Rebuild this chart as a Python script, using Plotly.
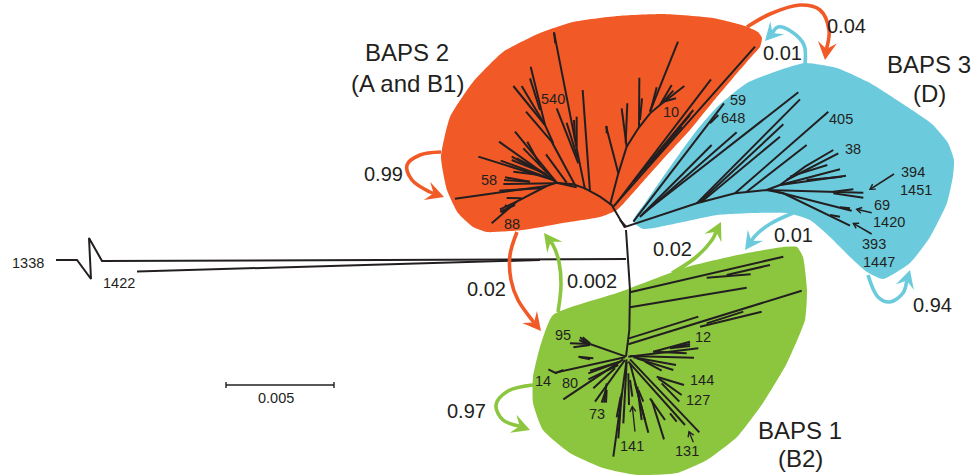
import plotly.graph_objects as go

INK = "#231f20"
ORANGE = "#f15a26"
BLUE = "#6bcbdd"
GREEN = "#8cc63f"

# Clade outlines (picture units)
orange_x = [762, 758, 745, 713, 663, 617, 573, 540, 503, 473, 450, 441, 447, 458, 473, 487, 523, 563, 600, 617, 640, 665, 690, 712, 733, 752, 760, 762]
orange_y = [38, 32, 26, 18, 14, 16, 22, 33, 52, 82, 117, 157, 190, 213, 227, 232, 230, 223, 217, 210, 185, 157, 130, 103, 78, 56, 47, 38]
blue_x = [633, 645, 661, 680, 697, 717, 747, 780, 805, 837, 870, 903, 932, 948, 954, 953, 947, 930, 910, 883, 867, 850, 830, 810, 787, 753, 717, 683, 643, 633]
blue_y = [221, 203, 180, 153, 130, 107, 83, 70, 63, 68, 83, 104, 124, 143, 160, 176, 203, 237, 263, 279, 272, 257, 237, 220, 213, 213, 215, 222, 229, 221]
green_x = [797, 803, 807, 805, 787, 763, 737, 707, 677, 637, 603, 570, 543, 533, 533, 540, 553, 620, 687, 747, 783, 797]
green_y = [247, 257, 290, 320, 363, 403, 437, 460, 473, 475, 468, 453, 430, 403, 377, 347, 315, 292, 267, 253, 247, 247]

# Branches, as polylines in zoomed-picture units (one origin per list)
orange_upper = [
    [(585,683),(545,615),(510,590),(465,565),(430,553),(375,548)],
    [(370,430),(345,375),(302,200)], [(345,375),(250,258)], [(345,375),(275,258)],
    [(330,330),(300,235)],
    [(540,615),(565,520),(590,440),(625,385),(660,340),(690,315),(763,258)],
    [(565,520),(528,378)], [(590,440),(575,325)], [(587,430),(592,310)], [(627,380),(628,233)], [(630,360),(636,295)],
    [(660,335),(744,125)], [(665,320),(680,262)], [(672,300),(660,335)], [(690,315),(725,255)], [(695,310),(730,272)], [(700,305),(738,295)],
    [(550,620),(975,140)], [(555,615),(843,238)], [(610,545),(790,330)], [(640,510),(780,345)], [(660,490),(755,380)],
    [(372,97),(376,130)], [(530,378),(530,400)],
]
orange_fine = [
    [(320,248),(195,95)], [(320,248),(220,145)], [(320,248),(147,125)], [(270,195),(232,125)],
    [(310,240),(85,170)], [(300,235),(152,182)], [(290,225),(185,170)], [(285,220),(185,180)], [(275,215),(200,175)],
    [(270,225),(190,215)], [(240,245),(165,232)], [(240,245),(162,240)], [(315,250),(160,252)],
    [(380,262),(320,248),(290,258),(15,296)], [(270,265),(148,272)], [(215,295),(170,294)],
    [(290,258),(200,305),(125,370)], [(200,305),(150,328)], [(195,315),(150,335)], [(190,312),(155,340)], [(180,325),(165,315)],
    [(350,248),(288,163)], [(375,255),(305,125),(228,35)],
    [(405,268),(385,170),(312,-203)], [(420,275),(398,-30)],
    [(385,190),(320,25)], [(383,175),(350,68)], [(380,140),(380,50)], [(375,120),(372,60)],
]
blue_branches = [
    [(0,480),(18,500),(230,430),(345,400),(440,390),(490,400),(690,497)],
    [(40,485),(312,130)], [(270,190),(295,165)], [(60,470),(275,255)], [(60,470),(350,217)], [(70,460),(535,97)],
    [(230,430),(540,118)], [(240,425),(490,193)], [(245,425),(480,230)],
    [(345,400),(625,155)], [(380,395),(560,255)],
    [(440,390),(480,375),(555,320),(640,270)], [(500,360),(655,280)], [(510,350),(622,315)], [(480,375),(660,328)],
    [(480,375),(678,347)], [(560,360),(665,350)], [(440,390),(730,398)], [(640,395),(700,388)], [(640,400),(730,413)],
    [(470,395),(695,452)], [(660,442),(690,445)], [(630,465),(660,470)],
]
blue_pointers = [[(822,342),(750,388)], [(755,458),(710,448)], [(755,522),(700,490)]]
green_upper = [
    [(318,0),(330,180),(328,300),(318,380)],
    [(330,187),(790,80)], [(620,135),(750,105)], [(560,143),(692,133)], [(330,232),(680,173)], [(327,325),(535,260)],
    [(325,343),(845,182)], [(540,290),(725,245)], [(560,280),(670,245)],
]
green_fine = [
    [(288,110),(180,72),(120,70)], [(180,75),(130,82)], [(175,72),(150,52)], [(172,72),(148,60)], [(180,70),(158,52)],
    [(285,112),(75,158),(55,148)], [(100,150),(75,160)], [(190,115),(145,110)], [(180,118),(150,112)],
    [(280,118),(100,238)], [(270,125),(175,160)], [(265,135),(175,178)], [(270,125),(180,152)], [(255,145),(190,205)],
    [(285,120),(195,245)], [(230,190),(222,248)], [(228,210),(215,248)], [(230,210),(228,248)],
    [(290,118),(250,410)], [(290,125),(280,310)], [(275,220),(265,355)], [(272,230),(260,292)],
    [(295,160),(297,255)], [(300,180),(307,230)],
    [(300,130),(355,338)], [(315,190),(345,300)], [(322,200),(335,300)], [(325,210),(340,245)],
    [(295,125),(465,315)], [(360,235),(405,300)], [(365,240),(402,358)], [(420,280),(440,305)],
    [(300,118),(508,337)], [(380,170),(462,195)], [(385,175),(455,225)], [(395,190),(448,245)],
    [(295,110),(505,85)], [(370,95),(480,65)], [(430,82),(480,72)], [(420,85),(480,78)],
    [(300,108),(492,113)], [(370,95),(470,100)], [(310,112),(438,135)], [(320,115),(430,150)], [(345,125),(395,152)],
]
green_pointers = [[(345,605),(337,530)], [(520,637),(507,605)]]

# Outgroup and scale bar (picture units)
outgroup_x = [56, 77, 91, 89, 102, 626]
outgroup_y = [260, 260, 279, 238, 261, 259]
second_x = [137, 540]
second_y = [271.5, 260]
scale_x = [226, 334]
scale_y = [385, 385]

# Transition arrows: path, colour
arrow_paths = [
    ([441,420,407,412,430,444], [152,155,165,180,192,197], ORANGE),
    ([517,510,511,518,532,541], [232,255,280,300,320,331], ORANGE),
    ([558,561,559,553,544], [312,285,262,245,233], GREEN),
    ([672,695,712,721], [273,258,240,222], GREEN),
    ([793,770,755,745], [213,224,236,250], BLUE),
    ([747,770,800,820,829,825], [27,14,5,10,30,60], ORANGE),
    ([805,804,792,778,765], [64,45,32,27,41], BLUE),
    ([868,878,890,903,910], [275,297,302,293,270], BLUE),
    ([533,508,496,503,530], [385,391,405,420,430], GREEN),
]

big_labels = ["BAPS 2", "(A and B1)", "BAPS 3", "(D)", "BAPS 1", "(B2)"]
big_lx = [407, 407, 929, 929, 800, 800]
big_ly = [52, 83, 64, 93, 430, 458]
rates = ["0.99", "0.02", "0.002", "0.02", "0.01", "0.04", "0.01", "0.94", "0.97"]
rate_x = [383, 486, 592, 672, 793, 846, 782, 932, 466]
rate_y = [174, 289, 281, 249, 235, 26, 53, 305, 411]
tips = ["540","10","58","88","59","648","405","38","394","1451","69","1420","393","1447",
        "95","12","14","80","144","127","73","141","131","1338","1422","0.005"]
tip_x = [553,671,489,512,738,733,841,853,913,916,882,889,874,879,563,703,543,570,702,698,597,632,687,28,119,276]
tip_y = [99,112,180,224,100,118,119,149,172,190,205,222,244,262,335,337,381,383,380,400,414,446,451,263,283,398]


def flatten(branches, ox, oy):
    xs, ys = [], []
    for line in branches:
        for zx, zy in line:
            xs.append(ox + zx / 3)
            ys.append(oy + zy / 3)
        xs.append(None)
        ys.append(None)
    return xs, ys


fig = go.Figure()
for xs, ys, col, name in [(orange_x, orange_y, ORANGE, "BAPS 2"), (blue_x, blue_y, BLUE, "BAPS 3"), (green_x, green_y, GREEN, "BAPS 1")]:
    fig.add_trace(go.Scatter(x=xs, y=ys, mode="lines", fill="toself", fillcolor=col, name=name,
                             line=dict(color=col, width=0, shape="spline", smoothing=0.5)))


def ink(xs, ys, width=2):
    fig.add_trace(go.Scatter(x=xs, y=ys, mode="lines", line=dict(color=INK, width=width)))


for branches, ox, oy in [(orange_upper, 430, 0), (orange_fine, 450, 100), (blue_branches, 620, 60),
                         (green_upper, 520, 230), (green_fine, 530, 320)]:
    ink(*flatten(branches, ox, oy))
ink(outgroup_x, outgroup_y)
ink(second_x, second_y)
ink(*flatten(blue_pointers, 620, 60), 1.6)
ink(*flatten(green_pointers, 520, 230), 1.3)
ink(scale_x, scale_y, 1.6)
for sx in scale_x:
    ink([sx, sx], [scale_y[0] - 3, scale_y[0] + 3], 1.4)
# pointer heads
for (tx, ty), (bx, by), ox, oy in [((750,388),(822,342),620,60), ((710,448),(755,458),620,60), ((700,490),(755,522),620,60),
                                   ((337,530),(345,605),520,230), ((507,605),(520,637),520,230)]:
    px, py = ox + tx / 3, oy + ty / 3
    qx, qy = ox + bx / 3, oy + by / 3
    n = ((qx - px) ** 2 + (qy - py) ** 2) ** 0.5
    ux, uy = (qx - px) / n, (qy - py) / n
    ink([px + 5 * ux - 3 * uy, px, px + 5 * ux + 3 * uy], [py + 5 * uy + 3 * ux, py, py + 5 * uy - 3 * ux], 1.4)

for xs, ys, col in arrow_paths:
    dx, dy = xs[-1] - xs[-2], ys[-1] - ys[-2]
    n = (dx ** 2 + dy ** 2) ** 0.5
    ux, uy = dx / n, dy / n
    L, W, N = 18, 9.5, 11
    hx = [xs[-1], xs[-1] - L * ux - W * uy, xs[-1] - N * ux, xs[-1] - L * ux + W * uy, xs[-1]]
    hy = [ys[-1], ys[-1] - L * uy + W * ux, ys[-1] - N * uy, ys[-1] - L * uy - W * ux, ys[-1]]
    fig.add_trace(go.Scatter(x=xs[:-1] + [xs[-1] - N * ux], y=ys[:-1] + [ys[-1] - N * uy], mode="lines",
                             line=dict(color=col, width=3.6, shape="spline", smoothing=1)))
    fig.add_trace(go.Scatter(x=hx, y=hy, mode="lines", fill="toself", fillcolor=col, line=dict(color=col, width=0)))


def put(labels, xs, ys, size):
    for t, x, y in zip(labels, xs, ys):
        fig.add_annotation(x=x, y=y, text=t, showarrow=False, xanchor="center", yanchor="middle",
                           borderpad=0, font=dict(family="Liberation Sans", size=size, color=INK))


put(big_labels, big_lx, big_ly, 24)
put(rates, rate_x, rate_y, 20)
put(tips, tip_x, tip_y, 14.5)

fig.update_layout(width=973, height=475, margin=dict(l=0, r=0, t=0, b=0), showlegend=False,
                  paper_bgcolor="white", plot_bgcolor="white",
                  xaxis=dict(range=[0, 973], visible=False, fixedrange=True),
                  yaxis=dict(range=[475, 0], visible=False, fixedrange=True))
fig.write_html("out.html", post_script="document.body.style.margin='0';document.body.style.overflow='hidden';",
               config={"displayModeBar": False})
